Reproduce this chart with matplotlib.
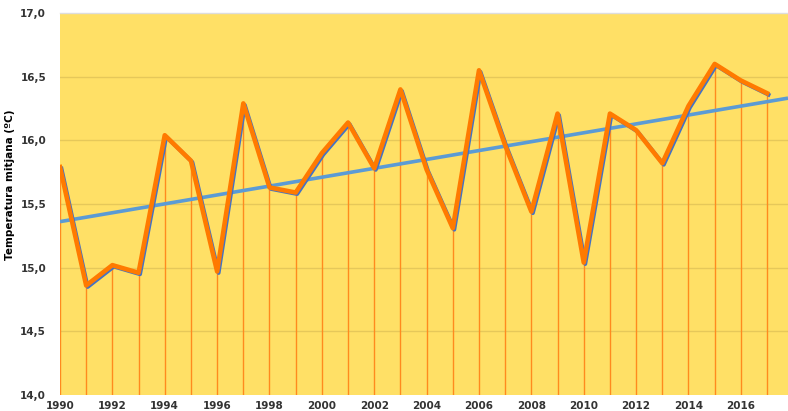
import numpy as np
import matplotlib
matplotlib.use("Agg")
import matplotlib.pyplot as plt
import matplotlib.transforms as mtransforms

years = list(range(1990, 2018))
temps = [15.79, 14.86, 15.02, 14.96, 16.04, 15.84, 14.97, 16.29, 15.63, 15.59,
         15.90, 16.14, 15.78, 16.40, 15.77, 15.31, 16.55, 15.96, 15.44, 16.21,
         15.04, 16.21, 16.08, 15.82, 16.27, 16.60, 16.47, 16.37]
xtick_labels = [str(y) for y in range(1990, 2017, 2)]
ytick_vals = [14.0, 14.5, 15.0, 15.5, 16.0, 16.5, 17.0]
ytick_labels = ["14,0", "14,5", "15,0", "15,5", "16,0", "16,5", "17,0"]
ylabel = "Temperatura mitjana (ºC)"

fig = plt.figure(figsize=(7.88, 4.11), dpi=100)
ax = fig.add_axes([60/788, 1-395/411, 1-60/788, (395-13)/411])
ax.set_facecolor("#FFE066")

x0, x1 = 1990, 2017.8
ax.set_xlim(x0, x1)
ax.set_ylim(14.0, 17.0)

# gridlines
for v in ytick_vals[1:-1]:
    ax.axhline(v, color="#E6C85A", lw=1.0, zorder=1)

# drop lines
ax.vlines(years, 14.0, temps, color="#FF8A1E", lw=1.0, zorder=2)

# trend
coef = np.polyfit(years, temps, 1)
tx = np.array([x0, x1])
ax.plot(tx, np.polyval(coef, tx), color="#5B9BD5", lw=2.6, zorder=3, solid_capstyle="butt")

# blue series (offset shadow)
off = mtransforms.offset_copy(ax.transData, fig=fig, x=1.5, y=-1.5, units="dots")
ax.plot(years, temps, color="#4472C4", lw=2.8, zorder=4, transform=off)
ax.plot(years, temps, color="#FF7A00", lw=3.3, zorder=5)

ax.set_xticks(range(1990, 2017, 2))
ax.set_xticklabels(xtick_labels)
ax.set_yticks(ytick_vals)
ax.set_yticklabels(ytick_labels)
ax.tick_params(length=0, labelsize=7.5, labelcolor="#333333", pad=4)
for lab in ax.get_xticklabels() + ax.get_yticklabels():
    lab.set_fontweight("bold")
ax.tick_params(axis="y", pad=10)

for s in ["left", "right", "bottom"]:
    ax.spines[s].set_visible(False)
ax.spines["top"].set_color("#DDDDDD")
ax.spines["top"].set_linewidth(1.0)

ax.set_ylabel(ylabel, fontsize=7.5, fontweight="bold", color="#000000")
ax.yaxis.set_label_coords(-0.062, 0.55)

fig.savefig("out.png", dpi=100)
